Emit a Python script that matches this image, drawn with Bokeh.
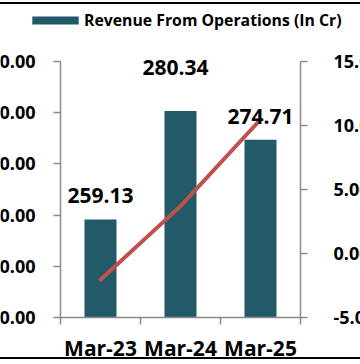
from bokeh.plotting import figure
from bokeh.models import (FactorRange, Range1d, LinearAxis, CategoricalAxis, FixedTicker,
                          PrintfTickFormatter, ColumnDataSource, LabelSet, Legend, LegendItem)
from bokeh.core.properties import value
from bokeh.embed import file_html
from bokeh.resources import INLINE

# ---- data ----
periods = ["Mar-23", "Mar-24", "Mar-25"]
revenue = [259.13, 280.34, 274.71]
line_values = [-2.05, 3.7, 10.47]
left_ticks = [240, 250, 260, 270, 280, 290]
right_ticks = [-5, 0, 5, 10, 15]
edge_ticks = [0, 1, 2, 3]
legend_label = "Revenue From Operations (In Cr)"

# ---- styling / layout (pixels) ----
label_dx = [0, -5, 0]
label_dy = [17, 36, 16]
BAR = "#235A69"
LINE = "#C0504D"
AXIS = "#8A8A8A"
FONT = "Open Sans"
FRAME_W, FRAME_H = 360, 353
AXIS_PX = 256          # height of the value axes
PAD_TOP, PAD_BOTTOM = 57, 40
CAT_PX = 80            # width of one category


def padded(lo, hi):
    per_px = (hi - lo) / AXIS_PX
    return Range1d(lo - PAD_BOTTOM * per_px, hi + PAD_TOP * per_px)


# padding (in category units) added on each side of the factor range
side_pad = (FRAME_W - CAT_PX * len(periods)) / CAT_PX / 2
p = figure(x_range=FactorRange(*periods, range_padding=side_pad, range_padding_units="absolute"),
           y_range=padded(left_ticks[0], left_ticks[-1]),
           frame_width=FRAME_W, frame_height=FRAME_H,
           min_border_left=0, min_border_right=0, min_border_top=0, min_border_bottom=0,
           x_axis_location=None, y_axis_location=None,
           output_backend="svg", toolbar_location=None)
p.extra_y_ranges = {"pct": padded(right_ticks[0], right_ticks[-1])}
p.grid.visible = False
p.outline_line_color = None
p.background_fill_color = "white"
p.border_fill_color = "white"


def style_axis(ax, size):
    ax.axis_line_color = AXIS
    ax.axis_line_width = 1.5
    ax.major_tick_line_color = AXIS
    ax.major_tick_line_width = 1.5
    ax.major_tick_in = 0
    ax.major_tick_out = 7
    ax.minor_tick_line_color = None
    ax.major_label_text_font = FONT
    ax.major_label_text_font_style = "bold"
    ax.major_label_text_font_size = size
    ax.major_label_text_color = "black"


left = LinearAxis(ticker=FixedTicker(ticks=left_ticks), formatter=PrintfTickFormatter(format="%.2f"),
                  fixed_location=edge_ticks[0], bounds=(left_ticks[0], left_ticks[-1]))
style_axis(left, "18px")
left.major_label_standoff = 18
p.add_layout(left, "left")

right = LinearAxis(y_range_name="pct", ticker=FixedTicker(ticks=right_ticks),
                   formatter=PrintfTickFormatter(format="%.2f"),
                   fixed_location=edge_ticks[-1], bounds=(right_ticks[0], right_ticks[-1]))
style_axis(right, "18px")
right.major_label_standoff = 26
p.add_layout(right, "right")

# category-boundary ticks (synthetic coordinates of the factor range)
edge = LinearAxis(ticker=FixedTicker(ticks=edge_ticks), fixed_location=left_ticks[0],
                  bounds=(edge_ticks[0], edge_ticks[-1]))
style_axis(edge, "1px")
edge.major_label_overrides = {t: "" for t in edge_ticks}
edge.major_label_text_color = None
edge.major_label_standoff = 0
p.add_layout(edge, "below")

cat = CategoricalAxis(fixed_location=left_ticks[0])
style_axis(cat, "21px")
cat.axis_line_color = None
cat.major_tick_line_color = None
cat.major_tick_out = 0
cat.major_label_standoff = 16
p.add_layout(cat, "below")

src = ColumnDataSource(dict(period=periods, revenue=revenue,
                            label=[f"{v:.2f}" for v in revenue],
                            dx=label_dx, dy=label_dy))
bars = p.vbar(x="period", top="revenue", bottom=left_ticks[0], width=0.4,
              source=src, fill_color=BAR, line_color=None)
p.line(x=periods, y=line_values, y_range_name="pct", line_color=LINE, line_width=4,
       line_cap="round", line_join="round")

labels = LabelSet(x="period", y="revenue", text="label", source=src,
                  x_offset="dx", y_offset="dy", text_align="center",
                  text_baseline="alphabetic", text_font=value(FONT),
                  text_font_style="bold", text_font_size="21px", text_color="black")
p.add_layout(labels)

legend = Legend(items=[LegendItem(label=legend_label, renderers=[bars])],
                location=(26, 326), orientation="horizontal", padding=0, margin=0,
                border_line_color=None, background_fill_alpha=0,
                glyph_width=58, glyph_height=10, label_standoff=0,
                label_text_font=FONT, label_text_font_size="15.8px",
                label_text_font_style="bold", label_text_color="black")
p.add_layout(legend)

p.styles = {"margin-top": "4px", "box-shadow": "0 -2px 0 0 #000, 0 2px 0 0 #000"}

open("out.html", "w").write(file_html(p, INLINE))
